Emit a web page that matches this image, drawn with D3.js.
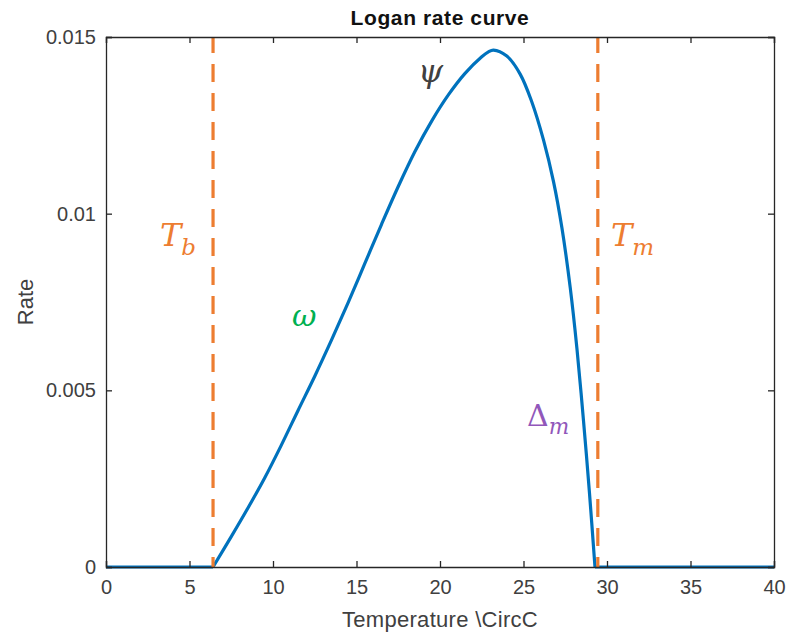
<!DOCTYPE html>
<html><head><meta charset="utf-8">
<script src="https://cdn.jsdelivr.net/npm/d3@7"></script>
<style>body{margin:0;background:#fff;} svg{display:block;}</style>
</head><body>
<svg id="chart" width="789" height="635"></svg>
<script>
// ---- data ----
const tempHump = [6.41, 7.5, 8.5, 9.5, 10.5, 11.5, 12.5, 13.5, 14.5, 15.5, 16.5, 17.5, 18.5, 19.5, 20.5, 21.5, 22.5, 22.9, 23.2, 24.0, 24.8, 25.5, 26.2, 26.8, 27.3, 27.8, 28.2, 28.6, 28.95, 29.28];
const rateHump = [0, 0.00086, 0.00167, 0.00252, 0.00345, 0.00443, 0.00540, 0.00642, 0.00748, 0.00859, 0.00970, 0.01077, 0.01176, 0.01262, 0.01336, 0.01397, 0.01444, 0.01458, 0.01463, 0.01446, 0.01395, 0.01316, 0.01208, 0.01090, 0.00960, 0.00790, 0.00618, 0.00410, 0.00210, 0];
const tempZeroLow = [0, 6.41];
const tempZeroHigh = [29.28, 40];
const Tb = 6.41, Tm = 29.45;
const xTicks = [0, 5, 10, 15, 20, 25, 30, 35, 40];
const yTicks = [0, 0.005, 0.01, 0.015];
const yTickLabels = ["0", "0.005", "0.01", "0.015"];
const title = "Logan rate curve";
const xLabel = "Temperature \\CircC";
const yLabel = "Rate";

const W = 789, H = 635;
const m = {left: 106, right: 15, top: 37, bottom: 68};
const svg = d3.select("#chart");
const x = d3.scaleLinear().domain([0, 40]).range([m.left, W - m.right]);
const y = d3.scaleLinear().domain([0, 0.015]).range([H - m.bottom, m.top]);
const axisCol = "#262626";
const font = "'Liberation Sans', Arial, sans-serif";

// curve
const blue = "#0072BD";
const lineFn = d3.line().x(d => x(d[0])).y(d => y(d[1]));
svg.append("path").datum(tempZeroLow.map(t => [t, 0])).attr("d", lineFn)
  .attr("fill", "none").attr("stroke", blue).attr("stroke-width", 3.2);
svg.append("path").datum(tempZeroHigh.map(t => [t, 0])).attr("d", lineFn)
  .attr("fill", "none").attr("stroke", blue).attr("stroke-width", 3.2);
svg.append("path").datum(tempHump.map((t, i) => [t, rateHump[i]]))
  .attr("d", d3.line().x(d => x(d[0])).y(d => y(d[1])).curve(d3.curveCatmullRom.alpha(0.5)))
  .attr("fill", "none").attr("stroke", blue).attr("stroke-width", 3.2).attr("stroke-linejoin", "round");

// dashed lines
const orange = "#ED7D31";
[Tb, Tm].forEach(t => {
  svg.append("line").attr("x1", x(t)).attr("x2", x(t)).attr("y1", y(0.015)).attr("y2", y(0))
    .attr("stroke", orange).attr("stroke-width", 3.2).attr("stroke-dasharray", "18,11").attr("stroke-dashoffset", 2);
});

// axes box
const gx = svg.append("g").attr("transform", `translate(0,${y(0)})`)
  .call(d3.axisBottom(x).tickValues(xTicks).tickSize(-6).tickPadding(13).tickFormat(d3.format("d")));
const gxt = svg.append("g").attr("transform", `translate(0,${y(0.015)})`)
  .call(d3.axisTop(x).tickValues(xTicks).tickSize(-6).tickFormat(""));
const gy = svg.append("g").attr("transform", `translate(${x(0)},0)`)
  .call(d3.axisLeft(y).tickValues(yTicks).tickSize(-6).tickPadding(10).tickFormat((d, i) => yTickLabels[i]));
const gyr = svg.append("g").attr("transform", `translate(${x(40)},0)`)
  .call(d3.axisRight(y).tickValues(yTicks).tickSize(-6).tickFormat(""));
[gx, gxt, gy, gyr].forEach(g => {
  g.select(".domain").attr("stroke", axisCol).attr("stroke-width", 1.3);
  g.selectAll(".tick line").attr("stroke", axisCol).attr("stroke-width", 1.3);
  g.selectAll(".tick text").attr("fill", "#404040").attr("font-family", font).attr("font-size", 20);
});

// texts
svg.append("text").attr("x", (x(0) + x(40)) / 2).attr("y", 25).attr("text-anchor", "middle")
  .attr("font-family", font).attr("font-weight", "bold").attr("font-size", 21).attr("letter-spacing", 0.6)
  .attr("fill", "#111").text(title);
svg.append("text").attr("x", (x(0) + x(40)) / 2).attr("y", 627).attr("text-anchor", "middle")
  .attr("font-family", font).attr("font-size", 22).attr("letter-spacing", 0.3).attr("fill", "#404040").text(xLabel);
svg.append("text").attr("transform", `translate(33,${(y(0) + y(0.015)) / 2}) rotate(-90)`).attr("text-anchor", "middle")
  .attr("font-family", font).attr("font-size", 22).attr("fill", "#404040").text(yLabel);

// math annotations
const mfont = "'DejaVu Serif', 'Liberation Serif', serif";
function mathLabel(px, py, main, sub, color, size, mainItalic) {
  const t = svg.append("text").attr("x", px).attr("y", py).attr("font-family", mfont)
    .attr("font-size", size).attr("fill", color);
  t.append("tspan").attr("font-style", mainItalic ? "italic" : "normal").text(main);
  if (sub) t.append("tspan").attr("font-style", "italic").attr("font-size", size * 0.72).attr("dy", size * 0.28).text(sub);
}
mathLabel(160, 246, "T", "b", orange, 32, true);
mathLabel(611, 246, "T", "m", orange, 32, true);
mathLabel(292, 326, "ω", null, "#00B050", 30, true);
mathLabel(418, 82, "ψ", null, "#404040", 32, true);
mathLabel(527, 426, "Δ", "m", "#9157BA", 30, false);
</script>
</body></html>
